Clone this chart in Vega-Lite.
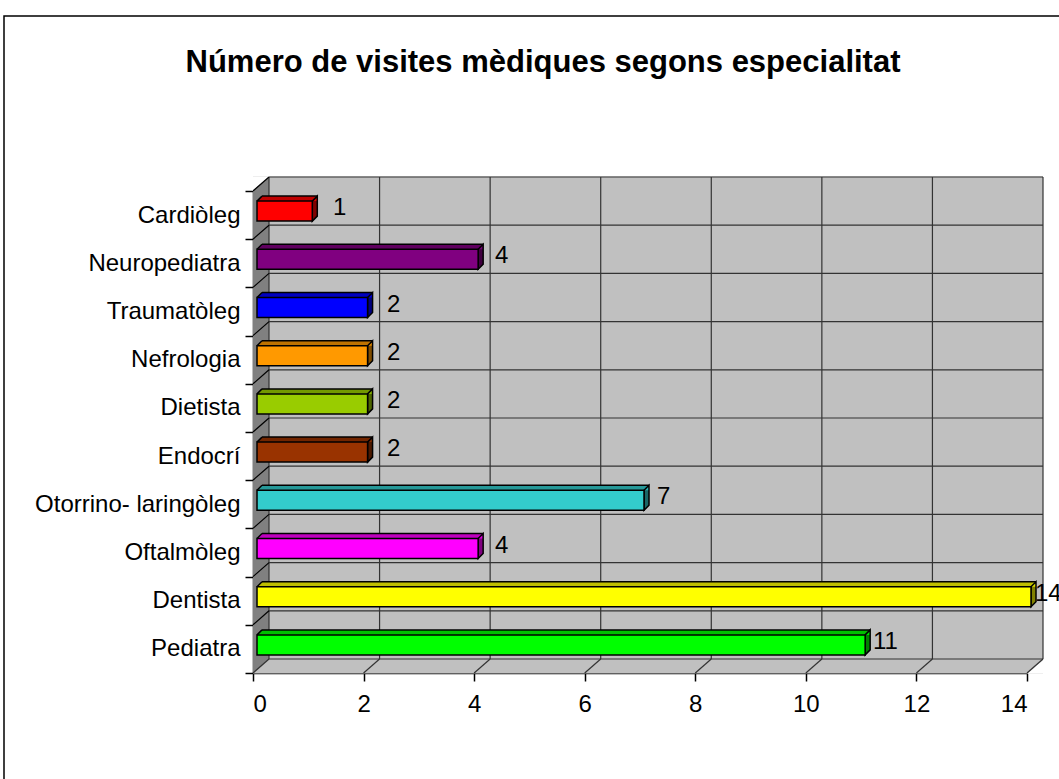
{
"$schema":"https://vega.github.io/schema/vega-lite/v6.json",
"width":774,"height":482,
"autosize":{"type":"none"},
"padding":{"left":253,"top":191,"right":32,"bottom":106},
"background":"white",
"title":{"text":"Número de visites mèdiques segons especialitat","font":"Liberation Sans","fontSize":31,"fontWeight":"bold","color":"black","anchor":"middle","frame":"group","dx":-97,"dy":90,"offset":0,"baseline":"alphabetic"},
"datasets":{
"bars":[
{"cat":"Cardiòleg","v":1},
{"cat":"Neuropediatra","v":4},
{"cat":"Traumatòleg","v":2},
{"cat":"Nefrologia","v":2},
{"cat":"Dietista","v":2},
{"cat":"Endocrí","v":2},
{"cat":"Otorrino- laringòleg","v":7},
{"cat":"Oftalmòleg","v":4},
{"cat":"Dentista","v":14},
{"cat":"Pediatra\u00a0","v":11}
],
"ticks":[{"t":0},{"t":2},{"t":4},{"t":6},{"t":8},{"t":10},{"t":12},{"t":14}]
},
"data":{"name":"bars"},
"layer":[
{"layer":[
{"data":{"values":[{}]},"mark":{"type":"point","shape":"M-1,-1L1,-1L1,1L-1,1Z","size":1440000,"filled":false,"color":"black","strokeWidth":1.5,"opacity":1,"xOffset":351,"yOffset":401},
 "encoding":{"x":{"datum":0,"type":"quantitative","scale":{"domain":[0,14]}},"y":{"datum":"Cardiòleg","type":"nominal","scale":{"domain":["Cardiòleg","Neuropediatra","Traumatòleg","Nefrologia","Dietista","Endocrí","Otorrino- laringòleg","Oftalmòleg","Dentista","Pediatra\u00a0"],"paddingInner":0,"paddingOuter":0}}}},
{"mark":{"type":"bar","color":"#C0C0C0","size":63,"x2Offset":16,"yOffset":-7},
 "encoding":{"x":{"datum":0,"type":"quantitative","scale":{"domain":[0,14]}},"x2":{"datum":14},"y":{"field":"cat","type":"nominal","title":null}}},
{"data":{"values":[{}]},"mark":{"type":"point","shape":"M1,-0.875L1,0.875L-1,0.875Z","size":256,"filled":true,"fill":"white","strokeWidth":0,"opacity":1,"xOffset":8.5,"yOffset":17.6},
 "encoding":{"x":{"datum":14,"type":"quantitative","scale":{"domain":[0,14]}},"y":{"datum":"Pediatra\u00a0","type":"nominal"}}},
{"mark":{"type":"bar","color":"#808080","size":49,"x2Offset":16,"yOffset":-14},
 "encoding":{"x":{"datum":0,"type":"quantitative","scale":{"domain":[0,14]}},"x2":{"datum":0},"y":{"field":"cat","type":"nominal","title":null}}},
{"data":{"values":[{}]},"mark":{"type":"point","shape":"M-1.1,-0.975L1.1,-0.975L-1.1,0.875Z","size":256,"filled":true,"fill":"white","strokeWidth":0,"opacity":1,"xOffset":8,"yOffset":-31.1},
 "encoding":{"x":{"datum":0,"type":"quantitative","scale":{"domain":[0,14]}},"y":{"datum":"Cardiòleg","type":"nominal"}}},
{"data":{"values":[{}]},"mark":{"type":"point","shape":"M-1,-0.875L1,-0.875L-1,0.875Z","size":256,"filled":true,"fill":"#808080","strokeWidth":0,"opacity":1,"xOffset":8,"yOffset":17.1},
 "encoding":{"x":{"datum":0,"type":"quantitative","scale":{"domain":[0,14]}},"y":{"datum":"Pediatra\u00a0","type":"nominal"}}},
{"mark":{"type":"rule","color":"#333333","strokeWidth":1.2,"xOffset":16,"x2Offset":16,"yOffset":-14},
 "encoding":{"x":{"datum":0,"type":"quantitative","scale":{"domain":[0,14]}},"x2":{"datum":14},"y":{"field":"cat","type":"nominal","title":null,"bandPosition":0}}},
{"data":{"values":[{}]},"mark":{"type":"rule","color":"#333333","strokeWidth":1.2,"xOffset":16,"x2Offset":16,"yOffset":10.1},
 "encoding":{"x":{"datum":0,"type":"quantitative","scale":{"domain":[0,14]}},"x2":{"datum":14},"y":{"datum":"Pediatra\u00a0","type":"nominal"}}},
{"data":{"name":"ticks"},"mark":{"type":"point","shape":"M0,-1L0,1","size":232324,"filled":false,"color":"#333333","strokeWidth":1.2,"opacity":1,"xOffset":16,"yOffset":10.2},
 "encoding":{"x":{"field":"t","type":"quantitative","title":null,"scale":{"domain":[0,14]}},"y":{"datum":"Dietista","type":"nominal"}}},
{"data":{"name":"ticks"},"mark":{"type":"point","shape":"M-1,0.875L1,-0.875","size":256,"filled":false,"color":"#333333","strokeWidth":1.2,"opacity":1,"xOffset":8,"yOffset":17.1},
 "encoding":{"x":{"field":"t","type":"quantitative","title":null,"scale":{"domain":[0,14]}},"y":{"datum":"Pediatra\u00a0","type":"nominal"}}},
{"mark":{"type":"point","shape":"M-1,0.875L1,-0.875","size":256,"filled":false,"color":"black","strokeWidth":1.2,"opacity":1,"xOffset":8,"yOffset":-7},
 "encoding":{"x":{"datum":0,"type":"quantitative","scale":{"domain":[0,14]}},"y":{"field":"cat","type":"nominal","title":null,"bandPosition":0}}},

{"mark":{"type":"bar","color":"black","size":5,"xOffset":9,"x2Offset":9,"yOffset":-16.5},
 "encoding":{"x":{"field":"v","type":"quantitative","title":null,"scale":{"domain":[0,14]}},"y":{"field":"cat","type":"nominal","title":null}}},
{"mark":{"type":"point","shape":"M-1,1L1,-1L1,1Z","size":25,"filled":true,"color":"black","strokeWidth":0,"opacity":1,"xOffset":6.5,"yOffset":-16.5},
 "encoding":{"x":{"datum":0,"type":"quantitative","scale":{"domain":[0,14]}},"y":{"field":"cat","type":"nominal","title":null}}},
{"mark":{"type":"point","shape":"M-1,-3L1,-5L1,3L-1,5Z","size":25,"filled":true,"color":"black","strokeWidth":0,"opacity":1,"xOffset":6.5,"yOffset":-6.5},
 "encoding":{"x":{"field":"v","type":"quantitative","title":null,"scale":{"domain":[0,14]}},"y":{"field":"cat","type":"nominal","title":null}}},

{"mark":{"type":"bar","size":5,"opacity":0.75,"xOffset":9,"x2Offset":9,"yOffset":-16.5},
 "encoding":{"x":{"field":"v","type":"quantitative","title":null,"scale":{"domain":[0,14]}},"y":{"field":"cat","type":"nominal","title":null},
 "color":{"field":"cat","type":"nominal","legend":null,"scale":{"domain":["Cardiòleg","Neuropediatra","Traumatòleg","Nefrologia","Dietista","Endocrí","Otorrino- laringòleg","Oftalmòleg","Dentista","Pediatra\u00a0"],"range":["#FF0000","#800080","#0000FF","#FF9900","#99CC00","#993300","#33CCCC","#FF00FF","#FFFF00","#00FF00"]}}}},
{"mark":{"type":"point","shape":"M-1,1L1,-1L1,1Z","size":25,"filled":true,"strokeWidth":0,"opacity":0.75,"xOffset":6.5,"yOffset":-16.5},
 "encoding":{"x":{"datum":0,"type":"quantitative","scale":{"domain":[0,14]}},"y":{"field":"cat","type":"nominal","title":null},"color":{"field":"cat","type":"nominal","legend":null}}},
{"mark":{"type":"point","shape":"M-1,-3L1,-5L1,3L-1,5Z","size":25,"filled":true,"strokeWidth":0,"opacity":0.5,"xOffset":6.5,"yOffset":-6.5},
 "encoding":{"x":{"field":"v","type":"quantitative","title":null,"scale":{"domain":[0,14]}},"y":{"field":"cat","type":"nominal","title":null},"color":{"field":"cat","type":"nominal","legend":null}}},

{"mark":{"type":"rule","color":"black","strokeWidth":1.5,"xOffset":9,"x2Offset":9,"yOffset":-19},
 "encoding":{"x":{"field":"v","type":"quantitative","title":null,"scale":{"domain":[0,14]}},"x2":{"datum":0},"y":{"field":"cat","type":"nominal","title":null}}},
{"mark":{"type":"point","shape":"M-1,1L1,-1","size":25,"filled":false,"color":"black","strokeWidth":1.5,"opacity":1,"xOffset":6.5,"yOffset":-16.5},
 "encoding":{"x":{"datum":0,"type":"quantitative","scale":{"domain":[0,14]}},"y":{"field":"cat","type":"nominal","title":null}}},
{"mark":{"type":"point","shape":"M-1,-3L1,-5L1,3L-1,5Z","size":25,"filled":false,"color":"black","strokeWidth":1.5,"opacity":1,"xOffset":6.5,"yOffset":-6.5},
 "encoding":{"x":{"field":"v","type":"quantitative","title":null,"scale":{"domain":[0,14]}},"y":{"field":"cat","type":"nominal","title":null}}},

{"mark":{"type":"bar","size":20,"xOffset":4,"x2Offset":4,"yOffset":-4,"stroke":"black","strokeWidth":1.5,"opacity":1},
 "encoding":{"x":{"field":"v","type":"quantitative","title":null,"scale":{"domain":[0,14]},"axis":{"title":null,"values":[0,2,4,6,8,10,12,14],"format":"d"}},
 "y":{"field":"cat","type":"nominal","title":null,"axis":{"title":null}},
 "color":{"field":"cat","type":"nominal","legend":null}}}
]},
{"mark":{"type":"text","align":"left","baseline":"middle","dy":-7,"fontSize":24,"font":"Liberation Sans","color":"black"},
 "encoding":{"x":{"field":"v","type":"quantitative","title":null,"scale":{"domain":[-0.4815,13.852]},"axis":null},
 "y":{"field":"cat","type":"nominal","title":null},
 "text":{"field":"v","type":"quantitative"}}}
],
"resolve":{"scale":{"x":"independent"}},
"config":{
"view":{"stroke":null},
"font":"Liberation Sans",
"axis":{"labelFont":"Liberation Sans","labelFontSize":24,"labelColor":"black","domainColor":"black","tickColor":"black","tickSize":8,"grid":false,"domainWidth":1.5,"tickWidth":1.5,"zindex":1,"labelLimit":400,"title":null},
"axisY":{"tickBand":"extent","labelPadding":5},
"axisX":{"labelPadding":11}
}
}
